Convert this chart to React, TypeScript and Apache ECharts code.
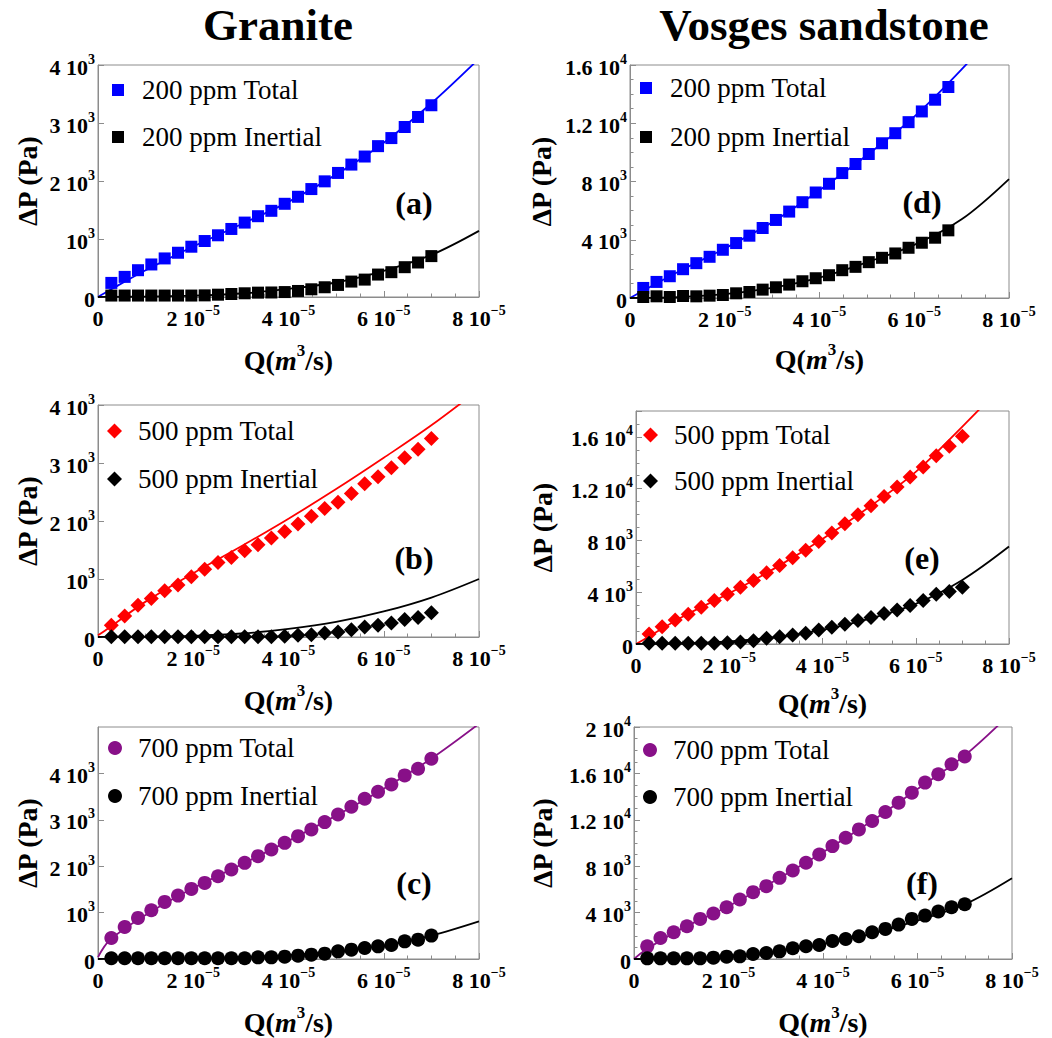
import React, { useEffect, useRef } from "react";
import * as echarts from "echarts";

// ---------- data ----------
const Q = [
  2.8e-6, 5.6e-6, 8.4e-6, 1.12e-5, 1.4e-5, 1.68e-5, 1.96e-5, 2.24e-5, 2.52e-5,
  2.8e-5, 3.08e-5, 3.36e-5, 3.64e-5, 3.92e-5, 4.2e-5, 4.48e-5, 4.76e-5, 5.04e-5,
  5.32e-5, 5.6e-5, 5.88e-5, 6.16e-5, 6.44e-5, 6.72e-5, 7.0e-5,
];
const fitQ = [0, 2.5e-6, 1e-5, 2e-5, 3e-5, 4e-5, 5e-5, 6e-5, 7e-5, 8e-5];

const granite200Total = [243, 347, 462, 561, 665, 763, 867, 965, 1064, 1173, 1283, 1393, 1486, 1607, 1728, 1861, 1994, 2139, 2283, 2422, 2601, 2740, 2931, 3104, 3306];
const granite200Inertial = [25, 25, 25, 25, 25, 25, 25, 28, 40, 52, 64, 75, 78, 85, 104, 133, 168, 208, 266, 300, 387, 428, 514, 595, 705];
const granite200TotalFit = [0, 120, 460, 870, 1250, 1640, 2110, 2660, 3340, 4110];
const granite200InertialFit = [0, 1, 8, 22, 60, 140, 250, 450, 725, 1140];

const granite500Total = [202, 364, 549, 665, 798, 896, 1040, 1168, 1283, 1370, 1486, 1590, 1705, 1821, 1948, 2081, 2214, 2324, 2474, 2642, 2763, 2919, 3092, 3237, 3422];
const granite500Inertial = [5, 5, 5, 5, 5, 5, 5, 5, 5, 5, 5, 5, 5, 12, 29, 40, 69, 87, 127, 173, 202, 243, 300, 335, 416];
const granite500TotalFit = [30, 170, 610, 1100, 1560, 2040, 2550, 3090, 3650, 4270];
const granite500InertialFit = [0, 1, 5, 20, 60, 140, 260, 440, 680, 1000];

const granite700Total = [453, 691, 885, 1050, 1230, 1367, 1511, 1640, 1784, 1928, 2072, 2216, 2360, 2504, 2647, 2791, 2950, 3115, 3281, 3453, 3604, 3763, 3957, 4101, 4317];
const granite700Inertial = [15, 15, 15, 15, 15, 15, 15, 15, 15, 15, 15, 36, 36, 50, 72, 94, 115, 165, 201, 237, 273, 302, 381, 417, 504];
const granite700TotalFit = [40, 410, 950, 1530, 2030, 2545, 3090, 3670, 4320, 5070];
const granite700InertialFit = [0, 2, 10, 20, 40, 85, 165, 290, 505, 810];

const sand200Total = [690, 1104, 1495, 1978, 2392, 2829, 3312, 3772, 4278, 4807, 5359, 5934, 6578, 7245, 7843, 8579, 9200, 9890, 10626, 11316, 12075, 12811, 13616, 14490];
const sand200Inertial = [70, 115, 70, 138, 115, 161, 207, 322, 414, 575, 736, 920, 1150, 1357, 1564, 1909, 2139, 2461, 2760, 3059, 3450, 3795, 4140, 4646];
const sand200TotalFit = [0, 450, 1770, 3400, 5200, 7400, 9800, 12450, 15700, 19300];
const sand200InertialFit = [0, 5, 50, 260, 700, 1400, 2450, 3650, 5400, 8165];

const sand500Total = [774, 1342, 1858, 2296, 2838, 3354, 3844, 4386, 4902, 5495, 6063, 6656, 7250, 7921, 8566, 9288, 9985, 10681, 11404, 12126, 12900, 13674, 14551, 15274, 16048];
const sand500Inertial = [50, 50, 50, 50, 50, 50, 103, 155, 258, 439, 568, 697, 826, 1084, 1290, 1522, 1806, 2038, 2348, 2632, 2967, 3354, 3844, 4051, 4386];
const sand500TotalFit = [0, 520, 2110, 3920, 5900, 8110, 10580, 13300, 16800, 20500];
const sand500InertialFit = [0, 5, 40, 200, 530, 1100, 1950, 3100, 4950, 7530];

const sand700Total = [1094, 1814, 2304, 2822, 3456, 3917, 4464, 5126, 5760, 6278, 6998, 7632, 8294, 9014, 9734, 10454, 11174, 11894, 12672, 13478, 14342, 15206, 15926, 16790, 17453];
const sand700Inertial = [58, 58, 58, 58, 58, 115, 202, 230, 432, 518, 662, 922, 1094, 1210, 1555, 1728, 1958, 2304, 2592, 2966, 3456, 3744, 4090, 4464, 4723];
const sand700TotalFit = [0, 800, 2600, 4550, 6800, 9200, 11800, 14650, 17550, 21300];
const sand700InertialFit = [0, 5, 50, 250, 650, 1300, 2150, 3300, 4720, 6970];

const columnTitles = ["Granite", "Vosges sandstone"];
const panelLabels = ["(a)", "(b)", "(c)", "(d)", "(e)", "(f)"];

// ---------- styling / layout ----------
const FONT = "'Liberation Serif', 'Times New Roman', serif";
const FRAME = "#8c8c8c";
const BLUE = "#0000ff";
const RED = "#ff0000";
const PURPLE = "#881088";
const BLACK = "#000000";

const tickRich = {
  b: { fontFamily: FONT, fontSize: 22, fontWeight: "bold", color: "#000", verticalAlign: "bottom", lineHeight: 26 },
  s: { fontFamily: FONT, fontSize: 14, fontWeight: "bold", color: "#000", verticalAlign: "top", lineHeight: 16 },
};
const nameRich = {
  b: { fontFamily: FONT, fontSize: 28, fontWeight: "bold", color: "#000", verticalAlign: "bottom", lineHeight: 32 },
  i: { fontFamily: FONT, fontSize: 28, fontWeight: "bold", fontStyle: "italic", color: "#000", verticalAlign: "bottom", lineHeight: 32 },
  s: { fontFamily: FONT, fontSize: 17, fontWeight: "bold", color: "#000", verticalAlign: "top", lineHeight: 19 },
};

const xFmt = (v: number) => {
  const k = Math.round(v / 1e-5);
  return k === 0 ? "{b|0}" : `{b|${k} 10}{s|−5}`;
};
const yFmtGranite = (v: number) => {
  const k = Math.round(v / 1000);
  if (k === 0) return "{b|0}";
  if (k === 1) return "{b|10}{s|3}";
  return `{b|${k} 10}{s|3}`;
};
const yFmtSand = (v: number) => {
  if (v === 0) return "{b|0}";
  if (v < 10000) return `{b|${Math.round(v / 1000)} 10}{s|3}`;
  const m = Math.round(v / 1000) / 10;
  return `{b|${m} 10}{s|4}`;
};

type Panel = {
  grid: { left: number; top: number; width: number; height: number };
  yMax: number; yInterval: number; minor: boolean; hideMax: boolean; fmt: (v: number) => string;
  sym: string; symSize: number; color: string;
  totalName: string; inertialName: string;
  total: number[]; inertial: number[]; totalFit: number[]; inertialFit: number[];
  label: [number, number];
  legend: { left: number; top: number; gap: number; pad: number };
  yNameGap: number; xNameGap: number;
};

const panels: Panel[] = [
  {
    grid: { left: 98, top: 65, width: 381, height: 232 }, yMax: 4000, yInterval: 1000, minor: false, hideMax: false, fmt: yFmtGranite,
    sym: "rect", symSize: 12, color: BLUE, totalName: "200 ppm Total", inertialName: "200 ppm Inertial",
    total: granite200Total, inertial: granite200Inertial, totalFit: granite200TotalFit, inertialFit: granite200InertialFit,
    label: [414, 203], legend: { left: 112, top: 76, gap: 19, pad: 13 }, yNameGap: 57, xNameGap: 45,
  },
  {
    grid: { left: 98, top: 405, width: 381, height: 232 }, yMax: 4000, yInterval: 1000, minor: false, hideMax: false, fmt: yFmtGranite,
    sym: "diamond", symSize: 15, color: RED, totalName: "500 ppm Total", inertialName: "500 ppm Inertial",
    total: granite500Total, inertial: granite500Inertial, totalFit: granite500TotalFit, inertialFit: granite500InertialFit,
    label: [414, 558], legend: { left: 107, top: 417, gap: 20, pad: 11 }, yNameGap: 57, xNameGap: 45,
  },
  {
    grid: { left: 98, top: 727, width: 381, height: 232 }, yMax: 5000, yInterval: 1000, minor: false, hideMax: true, fmt: yFmtGranite,
    sym: "circle", symSize: 14, color: PURPLE, totalName: "700 ppm Total", inertialName: "700 ppm Inertial",
    total: granite700Total, inertial: granite700Inertial, totalFit: granite700TotalFit, inertialFit: granite700InertialFit,
    label: [414, 883], legend: { left: 108, top: 734, gap: 20, pad: 11 }, yNameGap: 57, xNameGap: 45,
  },
  {
    grid: { left: 630, top: 65, width: 379, height: 233 }, yMax: 16000, yInterval: 4000, minor: true, hideMax: false, fmt: yFmtSand,
    sym: "rect", symSize: 12, color: BLUE, totalName: "200 ppm Total", inertialName: "200 ppm Inertial",
    total: sand200Total, inertial: sand200Inertial, totalFit: sand200TotalFit, inertialFit: sand200InertialFit,
    label: [922, 202], legend: { left: 640, top: 74, gap: 21, pad: 13 }, yNameGap: 75, xNameGap: 43,
  },
  {
    grid: { left: 636, top: 411, width: 373, height: 233 }, yMax: 18000, yInterval: 4000, minor: true, hideMax: true, fmt: yFmtSand,
    sym: "diamond", symSize: 15, color: RED, totalName: "500 ppm Total", inertialName: "500 ppm Inertial",
    total: sand500Total, inertial: sand500Inertial, totalFit: sand500TotalFit, inertialFit: sand500InertialFit,
    label: [922, 558], legend: { left: 643, top: 421, gap: 18, pad: 11 }, yNameGap: 80, xNameGap: 41,
  },
  {
    grid: { left: 634, top: 727, width: 378, height: 232 }, yMax: 20000, yInterval: 4000, minor: true, hideMax: false, fmt: yFmtSand,
    sym: "circle", symSize: 14, color: PURPLE, totalName: "700 ppm Total", inertialName: "700 ppm Inertial",
    total: sand700Total, inertial: sand700Inertial, totalFit: sand700TotalFit, inertialFit: sand700InertialFit,
    label: [922, 883], legend: { left: 643, top: 736, gap: 19, pad: 11 }, yNameGap: 78, xNameGap: 45,
  },
];

function buildOption() {
  const grid: any[] = [];
  const xAxis: any[] = [];
  const yAxis: any[] = [];
  const series: any[] = [];
  const legend: any[] = [];
  const graphic: any[] = [];

  panels.forEach((p, k) => {
    grid.push({ ...p.grid, show: true, borderColor: FRAME, borderWidth: 1, backgroundColor: "transparent" });
    const axisCommon = {
      axisLine: { show: true, lineStyle: { color: FRAME, width: 1 } },
      axisTick: { show: true, inside: true, length: 6, lineStyle: { color: FRAME, width: 1 } },
      splitLine: { show: false },
    };
    xAxis.push({
      type: "value", gridIndex: k, min: 0, max: 8e-5, interval: 2e-5,
      ...axisCommon,
      minorTick: { show: true, splitNumber: 4, length: 3.5, lineStyle: { color: FRAME, width: 1 } },
      axisLabel: { formatter: xFmt, rich: tickRich, margin: 6 },
      name: "{b|Q(}{i|m}{s|3}{b|/s)}", nameLocation: "middle", nameGap: p.xNameGap,
      nameTextStyle: { rich: nameRich },
    });
    yAxis.push({
      type: "value", gridIndex: k, min: 0, max: p.yMax, interval: p.yInterval,
      ...axisCommon,
      minorTick: { show: p.minor, splitNumber: 4, length: 3.5, lineStyle: { color: FRAME, width: 1 } },
      axisLabel: { formatter: p.fmt, rich: tickRich, margin: 3, showMaxLabel: !p.hideMax, showMinLabel: true },
      name: "ΔP (Pa)", nameLocation: "middle", nameGap: p.yNameGap, nameRotate: 90,
      nameTextStyle: { fontFamily: FONT, fontSize: 28, fontWeight: "bold", color: "#000" },
    });
    const lineCommon = {
      type: "line", xAxisIndex: k, yAxisIndex: k, showSymbol: false, symbol: "none", smooth: 0.35,
      clip: true, z: 2, silent: true,
    };
    series.push({
      ...lineCommon, name: `${p.totalName} fit ${k}`,
      lineStyle: { color: p.color, width: 1.8 }, itemStyle: { color: p.color },
      data: fitQ.map((q, i) => [q, p.totalFit[i]]),
    });
    series.push({
      ...lineCommon, name: `${p.inertialName} fit ${k}`,
      lineStyle: { color: BLACK, width: 1.8 }, itemStyle: { color: BLACK },
      data: fitQ.map((q, i) => [q, p.inertialFit[i]]),
    });
    series.push({
      type: "scatter", name: p.totalName, xAxisIndex: k, yAxisIndex: k, symbol: p.sym, symbolSize: p.symSize,
      itemStyle: { color: p.color, opacity: 1 }, z: 3,
      data: p.total.map((v, i) => [Q[i], v]),
    });
    series.push({
      type: "scatter", name: p.inertialName, xAxisIndex: k, yAxisIndex: k, symbol: p.sym, symbolSize: p.symSize,
      itemStyle: { color: BLACK, opacity: 1 }, z: 3,
      data: p.inertial.map((v, i) => [Q[i], v]),
    });
    legend.push({
      left: p.legend.left, top: p.legend.top, orient: "vertical", padding: 0, itemGap: p.legend.gap,
      itemWidth: p.symSize, itemHeight: p.symSize, selectedMode: false,
      textStyle: { fontFamily: FONT, fontSize: 27, color: "#000", lineHeight: 28, padding: [0, 0, 0, p.legend.pad] },
      data: [
        { name: p.totalName, icon: p.sym, itemStyle: { color: p.color } },
        { name: p.inertialName, icon: p.sym, itemStyle: { color: BLACK } },
      ],
    });
    graphic.push({
      type: "text", x: p.label[0], y: p.label[1], z: 10,
      style: {
        text: panelLabels[k], fill: "#000", font: `bold 32px ${FONT}`,
        textAlign: "center", textVerticalAlign: "middle", align: "center", verticalAlign: "middle",
      },
    });
  });

  [[278, 25], [824, 25]].forEach((pos, i) => {
    graphic.push({
      type: "text", x: pos[0], y: pos[1], z: 10,
      style: {
        text: columnTitles[i], fill: "#000", font: `bold 45px ${FONT}`,
        textAlign: "center", textVerticalAlign: "middle", align: "center", verticalAlign: "middle",
      },
    });
  });

  return {
    animation: false,
    backgroundColor: "#ffffff",
    textStyle: { fontFamily: FONT },
    grid, xAxis, yAxis, series, legend, graphic,
  };
}

export default function App() {
  const ref = useRef<HTMLDivElement | null>(null);
  useEffect(() => {
    if (!ref.current) return;
    const chart = echarts.init(ref.current, undefined, { renderer: "svg" });
    chart.setOption(buildOption() as any);
    return () => chart.dispose();
  }, []);
  return (
    <div
      ref={ref}
      style={{ position: "absolute", left: 0, top: 0, width: 1052, height: 1038, background: "#fff" }}
    />
  );
}
